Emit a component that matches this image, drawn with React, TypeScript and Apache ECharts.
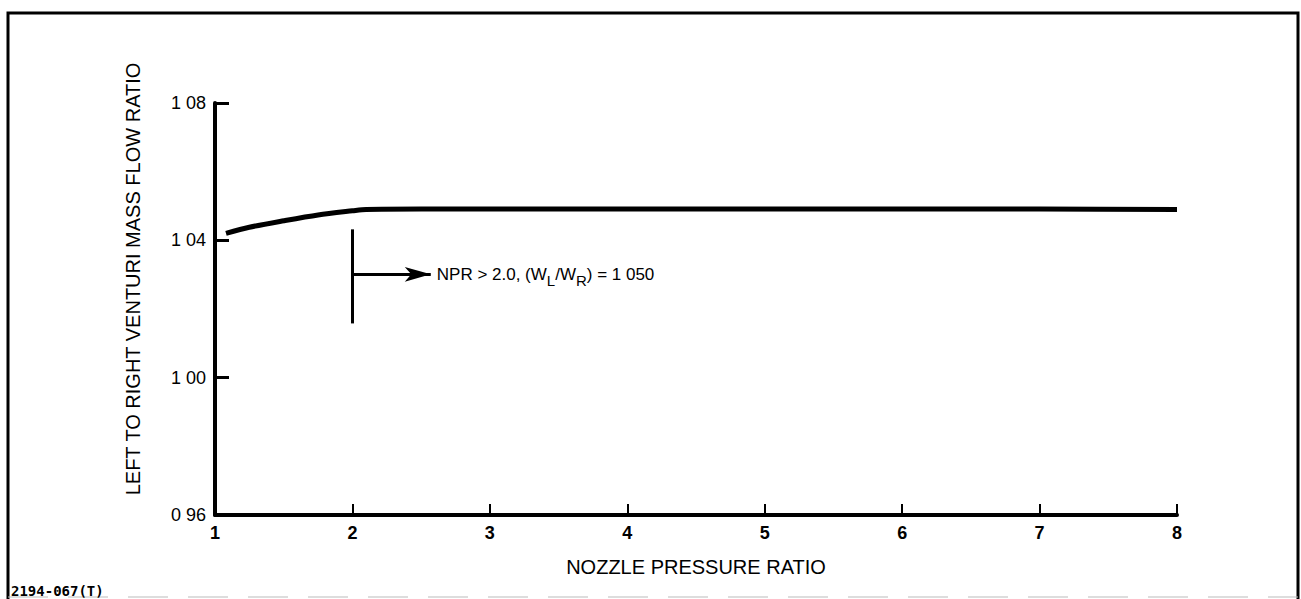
import React, { useEffect, useRef } from "react";
import * as echarts from "echarts";

const npr: number[] = [1.08, 1.25, 1.5, 1.75, 2.0, 2.1, 2.5, 3, 4, 5, 6, 7, 8];
const flowRatio: number[] = [1.042, 1.0438, 1.0457, 1.0474, 1.0486, 1.049, 1.0491, 1.0491, 1.0491, 1.0491, 1.0491, 1.0491, 1.049];
const xTicks: number[] = [1, 2, 3, 4, 5, 6, 7, 8];
const yTicks: string[] = ["0 96", "1 00", "1 04", "1 08"];
const markerBar: [number, number][] = [[2, 1.0432], [2, 1.0158]];
const arrowLine: [number, number][] = [[2, 1.0301], [2.57, 1.0301]];
const annotation = "{a|NPR > 2.0, (W}{s|L}{a|/W}{s|R}{a|) = 1 050}";

const FONT = "'Liberation Sans', Arial, sans-serif";
const NARROW = "'Liberation Sans Narrow', 'Liberation Sans', sans-serif";

export default function App() {
  const ref = useRef<HTMLDivElement>(null);
  useEffect(() => {
    if (!ref.current) return;
    const chart = echarts.init(ref.current, undefined, { renderer: "svg" });
    const data = npr.map((x, i) => [x, flowRatio[i]]);
    chart.setOption({
      animation: false,
      backgroundColor: "#ffffff",
      grid: { left: 215, right: 124, top: 103, bottom: 84, containLabel: false },
      xAxis: {
        type: "value",
        min: 1,
        max: 8,
        interval: 1,
        name: "NOZZLE PRESSURE RATIO",
        nameLocation: "middle",
        nameGap: 42,
        nameTextStyle: { fontFamily: FONT, fontSize: 20, color: "#000" },
        axisLine: { lineStyle: { color: "#000", width: 4 } },
        axisTick: { inside: true, length: 11, lineStyle: { color: "#000", width: 2 } },
        axisLabel: {
          margin: 9,
          fontFamily: NARROW,
          fontSize: 18,
          fontWeight: "bold",
          color: "#000",
          formatter: (v: number) => (xTicks.includes(v) ? String(v) : ""),
        },
        splitLine: { show: false },
      },
      yAxis: {
        type: "value",
        min: 0.96,
        max: 1.08,
        interval: 0.04,
        axisLine: { show: true, lineStyle: { color: "#000", width: 4 } },
        axisTick: { show: true, inside: true, length: 14, lineStyle: { color: "#000", width: 3 } },
        axisLabel: {
          margin: 9,
          fontFamily: FONT,
          fontSize: 18,
          color: "#000",
          formatter: (v: number) => {
            const idx = Math.round((v - 0.96) / 0.04);
            return yTicks[idx] ?? "";
          },
        },
        splitLine: { show: false },
      },
      series: [
        {
          type: "line",
          data,
          smooth: 0.3,
          showSymbol: false,
          symbol: "none",
          lineStyle: { color: "#000", width: 5 },
          markLine: {
            silent: true,
            label: { show: false },
            lineStyle: { color: "#000", width: 3, type: "solid" },
            data: [
              [
                { coord: markerBar[0], symbol: "none" },
                { coord: markerBar[1], symbol: "none" },
              ],
              [
                { coord: arrowLine[0], symbol: "none" },
                { coord: arrowLine[1], symbol: "arrow", symbolSize: [11, 26] },
              ],
            ],
          },
          markPoint: {
            silent: true,
            symbol: "circle",
            symbolSize: 0,
            data: [
              {
                coord: arrowLine[1],
                label: {
                  show: true,
                  position: "right",
                  distance: 6,
                  formatter: annotation,
                  rich: {
                    a: { fontFamily: FONT, fontSize: 17, color: "#000", lineHeight: 22 },
                    s: { fontFamily: FONT, fontSize: 15, color: "#000", lineHeight: 22, padding: [12, 0, 0, 0] },
                  },
                },
              },
            ],
          },
        },
      ],
      graphic: [
        {
          type: "polyline",
          shape: { points: [[8, 599], [8, 13], [1298, 13], [1298, 599]] },
          style: { stroke: "#000", lineWidth: 3, fill: "none" },
        },
        {
          type: "line",
          shape: { x1: 8, y1: 597, x2: 1298, y2: 597 },
          style: { stroke: "#bbb", lineWidth: 1, lineDash: [40, 20] },
        },
        {
          type: "text",
          x: 133,
          y: 279,
          rotation: Math.PI / 2,
          style: {
            text: "LEFT TO RIGHT VENTURI MASS FLOW RATIO",
            fontFamily: FONT,
            fontSize: 20,
            fill: "#000",
            textAlign: "center",
            textVerticalAlign: "middle",
          },
        },
        {
          type: "text",
          x: 11,
          y: 591,
          style: {
            text: "2194-067(T)",
            fontFamily: "'DejaVu Sans Mono', monospace",
            fontSize: 14,
            fontWeight: "bold",
            fill: "#000",
            textAlign: "left",
            textVerticalAlign: "middle",
          },
        },
      ],
    });
    return () => chart.dispose();
  }, []);
  return (
    <div
      ref={ref}
      style={{ position: "fixed", left: 0, top: 0, width: 1301, height: 599 }}
    />
  );
}
